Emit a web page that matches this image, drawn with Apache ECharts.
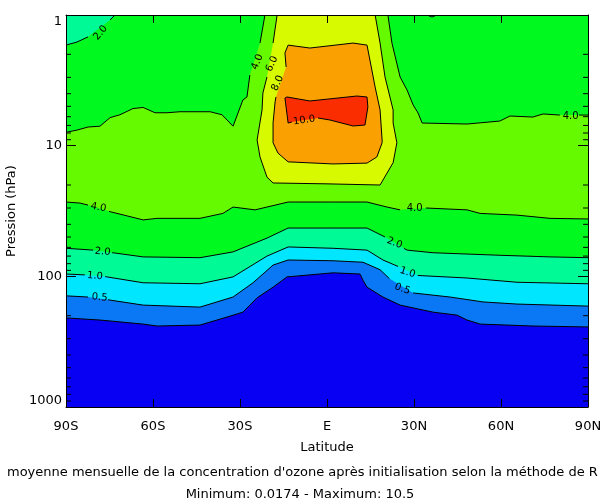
<!DOCTYPE html>
<html><head><meta charset="utf-8">
<script src="https://cdn.jsdelivr.net/npm/echarts@6/dist/echarts.min.js"></script>
<style>html,body{margin:0;padding:0;background:#fff}#c{width:600px;height:500px}</style>
</head><body><div id="c"></div>
<script>
// ---- axes ----
const latTicks = [-90, -60, -30, 0, 30, 60, 90];
const latTickLabels = ['90S', '60S', '30S', 'E', '30N', '60N', '90N'];
const pressureMin = 1, pressureMax = 1000;
const pressureMinorTicks = [2,3,4,5,6,7,8,9,20,30,40,50,60,70,80,90,200,300,400,500,600,700,800,900];

// ---- band colours, low to high concentration ----
const bandColors = ['#0800f2','#0a78f5','#00e6ff','#00fa96','#00fa20','#66fa00','#d8fa00','#faa000','#fa2d00'];

// ---- contour lines: [latitude, pressure hPa]; null = gap for a label ----
const cLow = [[-90,208],[-78.3,216],[-63.4,232],[-58.6,240],[-43.8,236],[-34.5,205],[-29,188],[-24.1,146],[-18.6,121],[-13.8,101],[2.1,94],[11.4,96],[12.4,107],[13.8,121],[19.3,144],[25.2,166],[36.6,188],[44.8,198],[48.3,216],[52.8,232],[71,240],[90,244]];
const c05 = [[-90,141],[-82.4,144],null,[-75.5,151],[-74.8,152],[-63.4,166],[-43.8,172],[-32.4,144],[-25.5,112],[-18.6,82],[-13.4,75],[2.1,76],[12.4,78],[18.3,89],[21.5,104],null,[29.7,134],[42.4,144],[53.8,157],[65.5,163],[90,169]];
const c10 = [[-90,96],[-83.5,97.5],null,[-76.5,100.5],[-75.9,101],[-63.4,112],[-43.8,114],[-32.4,101],[-20.7,70],[-13.4,59.6],[2.1,61],[13.8,63],[19.3,75],[24.5,84],null,[31.3,98.5],[48.3,103],[65.5,111],[90,114]];
const c20 = [[-90,61],[-80.6,63],null,[-74.1,66],[-73.8,66],[-63.4,71],[-43.8,72],[-32.4,65],[-20.7,51],[-13.4,42.7],[2.1,42.7],[13.8,42.7],[20,50],null,[26.5,61],[27.6,63],[36.6,66],[59.6,69],[76.9,71],[90,72]];
const c40low = [[-90,27],[-85.2,27.5],[-82.4,28.5],null,[-75.2,31.8],[-74.8,32],[-63.4,37],[-58.6,36],[-43.8,36],[-35.9,33],[-32.4,29.5],[-24.8,31],[-20.7,29.5],[-13.4,27],[2.1,27],[13.8,27],[20.7,29.5],[25.2,31],null,[34.1,30],[48.3,31],[52.8,33],[65.5,34],[76.9,36],[90,36.4]];
const c40left = [[-90,7.9],[-86.2,7.6],[-82.4,7.2],[-78.3,7.1],[-74.8,6.1],[-71.4,5.8],[-66.9,5.2],[-63.4,5.1],[-59.3,5.6],[-55.2,5.6],[-50.7,5.5],[-40.3,5.5],[-36.2,5.8],[-32.4,7.1],[-29,4.47],[-27.6,4.24],[-26.6,2.88],null,[-23.1,1.64],[-21.4,1]];
const c40right = [[21,1],[22.4,1.64],[25.2,2.98],[27.6,3.75],[29.7,4.88],[31.4,5.62],[32.8,6.71],[48.3,6.83],[59.6,6.48],[63.1,5.93],[71,6.04],[74.5,5.72],[80.3,5.83],null,[86.9,5.83],[90,5.83]];
const c20top = [[-90,1.70],[-86.2,1.61],[-82.4,1.47],null,[-74.8,1.09],[-73.1,1]];
const c20bump = [[34.5,1],[36.2,1.036],[37.9,1]];
const c60 = [[-17.2,1],[-18.6,1.64],null,[-20.7,2.98],[-22.1,3.95],[-22.4,5.33],[-24.1,9.05],[-23.1,12.2],[-20.7,17.4],[-18.6,19.3],[0,19.6],[18.3,20],[22.8,13.5],[24.1,9.5],[22.8,6.71],[22.8,5.33],[21.7,4.24],[20,2.98],[18.3,1.64],[16.6,1]];
const c80 = [[-14.1,2.50],[-14.5,1.95],[-13.4,1.70],[-5.9,1.79],[9.0,1.64],[13.8,1.70],[16.6,3.56],[18.3,5.33],[19,9.05],[19,9.5],[17.2,12.2],[13.8,13.6],[2.1,13.8],[-13.4,13.3],[-16.9,11.4],[-18.6,9.5],[-18.6,6.71],[-17.9,4.63],[-17.6,4.24]];
const c100 = [[-12.1,6.59],[-13.4,6.71],[-14.5,4.32],[-13.8,4.24],[-5.9,4.55],[10.3,4.17],[13.8,4.24],[14.1,5.06],[13.1,6.95],[9.0,7.07],[1.0,6.36],[-3.1,6.14]];

// ---- contour labels ----
const labelTexts = ['2.0','4.0','6.0','8.0','10.0','4.0','4.0','4.0','2.0','2.0','1.0','1.0','0.5','0.5'];
const labelAt = [[-78.1,1.37],[-24,2.29],[-19,2.37],[-17,3.32],[-7.9,6.4],[84,5.93],[-78.8,29.7],[30.2,30],[-77.4,65],[23.3,55.6],[-80,99.4],[27.8,93.5],[-78.4,145],[26,125]];
const labelAngles = [50,68,65,66,8,0,-10,0,-5,-22,-5,-18,-5,-20];

const footLine1 = "moyenne mensuelle de la concentration d'ozone après initialisation selon la méthode de R";
const footLine2 = 'Minimum: 0.0174 - Maximum: 10.5';

// ---- helpers ----
const clean = a => a.filter(p => p !== null);
function segs(a) {
  const out = []; let cur = [];
  a.forEach(p => { if (p === null) { if (cur.length) out.push(cur); cur = []; } else cur.push(p); });
  if (cur.length) out.push(cur);
  return out;
}
const TOP_L = [-90, pressureMin], TOP_R = [90, pressureMin];
const fills = [
  { pts: [TOP_L, TOP_R, [90, pressureMax], [-90, pressureMax]], band: 0 },
  { pts: clean(cLow).concat([TOP_R, TOP_L]), band: 1 },
  { pts: clean(c05).concat([TOP_R, TOP_L]), band: 2 },
  { pts: clean(c10).concat([TOP_R, TOP_L]), band: 3 },
  { pts: clean(c20).concat([TOP_R, TOP_L]), band: 4 },
  { pts: clean(c40low).concat([TOP_R, TOP_L]), band: 5 },
  { pts: clean(c40left).concat([TOP_L]), band: 4 },
  { pts: clean(c40right).concat([TOP_R]), band: 4 },
  { pts: clean(c20top).concat([TOP_L]), band: 3 },
  { pts: c20bump, band: 3 },
  { pts: clean(c60), band: 6 },
  { pts: clean(c80), band: 7 },
  { pts: clean(c100), band: 8 }
];
const lines = [cLow, c05, c10, c20, c40low, c40left, c40right, c20top, c20bump, c60, c80, c100];

const chart = echarts.init(document.getElementById('c'), null, { renderer: 'canvas' });
const FONT = 'DejaVu Sans';
const axLine = { show: true, onZero: false, lineStyle: { color: '#000', width: 1 } };

chart.setOption({
  animation: false,
  backgroundColor: '#ffffff',
  grid: { left: 66, right: 12, top: 15, bottom: 93, containLabel: false, outerBoundsMode: 'none' },
  xAxis: [{
    type: 'value', min: -90, max: 90, interval: 30, position: 'bottom', z: 10,
    name: 'Latitude', nameLocation: 'middle', nameGap: 34,
    nameTextStyle: { fontFamily: FONT, fontSize: 13, color: '#000' },
    axisLine: axLine,
    axisTick: { show: true, inside: true, length: 8, lineStyle: { color: '#000' } },
    axisLabel: { margin: 13, fontFamily: FONT, fontSize: 13, color: '#000',
      formatter: v => latTickLabels[latTicks.indexOf(v)] },
    splitLine: { show: false }
  }, {
    type: 'value', min: -90, max: 90, interval: 30, position: 'top', z: 10,
    axisLine: axLine,
    axisTick: { show: true, inside: true, length: 8, lineStyle: { color: '#000' } },
    axisLabel: { show: false }, splitLine: { show: false }
  }],
  yAxis: [{
    type: 'log', logBase: 10, min: pressureMin, max: pressureMax, inverse: true, position: 'left', z: 10,
    name: 'Pression (hPa)', nameLocation: 'middle', nameGap: 44, nameRotate: 90,
    nameTextStyle: { fontFamily: FONT, fontSize: 13, color: '#000' },
    axisLine: axLine,
    axisTick: { show: true, inside: true, length: 10, lineStyle: { color: '#000' } },
    axisLabel: { margin: 4, fontFamily: FONT, fontSize: 13, color: '#000',
      formatter: v => String(Math.round(v)),
      verticalAlignMinLabel: 'top', verticalAlignMaxLabel: 'bottom' },
    splitLine: { show: false }
  }, {
    type: 'log', logBase: 10, min: pressureMin, max: pressureMax, inverse: true, position: 'right', z: 10,
    axisLine: axLine,
    axisTick: { show: true, inside: true, length: 10, lineStyle: { color: '#000' } },
    axisLabel: { show: false }, splitLine: { show: false }
  }],
  graphic: [
    { type: 'text', left: 7, top: 466, style: { text: footLine1, font: '13px "DejaVu Sans"', fill: '#000' } },
    { type: 'text', left: 'center', top: 488, style: { text: footLine2, font: '13px "DejaVu Sans"', fill: '#000' } }
  ],
  series: [{
    type: 'custom', coordinateSystem: 'cartesian2d', xAxisIndex: 0, yAxisIndex: 0,
    silent: true, z: 2, clip: true,
    data: [[0, 10]],
    renderItem: function (params, api) {
      const children = [];
      fills.forEach(f => {
        children.push({ type: 'polygon', shape: { points: f.pts.map(p => api.coord(p)) },
          style: { fill: bandColors[f.band], stroke: null } });
      });
      lines.forEach(l => {
        segs(l).forEach(s => {
          children.push({ type: 'polyline', shape: { points: s.map(p => api.coord(p)) },
            style: { stroke: '#000', lineWidth: 1, fill: null } });
        });
      });
      labelTexts.forEach((t, i) => {
        const c = api.coord(labelAt[i]);
        children.push({ type: 'text', x: c[0], y: c[1], rotation: labelAngles[i] * Math.PI / 180,
          style: { text: t, font: '10px "DejaVu Sans"', fill: '#000', align: 'center', verticalAlign: 'middle' } });
      });
      pressureMinorTicks.forEach(v => {
        const a = api.coord([-90, v]), b = api.coord([90, v]);
        children.push({ type: 'line', shape: { x1: a[0], y1: a[1], x2: a[0] + 5, y2: a[1] }, style: { stroke: '#000', lineWidth: 1 } });
        children.push({ type: 'line', shape: { x1: b[0] - 5, y1: b[1], x2: b[0], y2: b[1] }, style: { stroke: '#000', lineWidth: 1 } });
      });
      return { type: 'group', children: children };
    }
  }]
});
</script>
</body></html>
